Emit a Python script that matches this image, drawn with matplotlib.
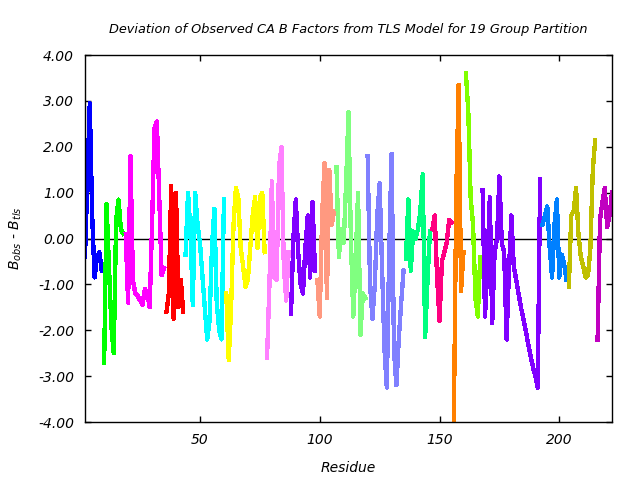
import matplotlib
matplotlib.use("Agg")
import matplotlib.pyplot as plt

# residue ranges of the 19 TLS groups (first, last)
group_starts = [2, 10, 19, 36, 44, 61, 78, 88, 99, 107, 120, 136, 147, 156, 161, 168, 193, 204, 216]
group_ends   = [9, 18, 35, 43, 60, 77, 87, 98, 106, 119, 135, 146, 155, 160, 167, 192, 203, 215, 222]

group_colors = ["#0000ff", "#00ff00", "#ff00ff", "#ff0000", "#00ffff", "#ffff00",
                "#ff80ff", "#8000ff", "#ff9980", "#80ff80", "#8080ff", "#00ff80",
                "#ff0080", "#ff8000", "#80ff00", "#8000ff", "#0080ff", "#c0c000",
                "#c000c0"]

# B_obs - B_tls per residue, one list per group
dev_g01 = [-0.4, 1.3, 2.95, 0.5, -0.85, -0.4, -0.3, -0.7]
dev_g02 = [-2.7, 0.75, -0.6, -1.9, -2.5, 0.4, 0.85, 0.2, 0.1]
dev_g03 = [0.1, -1.4, 1.8, -0.9, -1.2, -1.25, -1.35, -1.45, -1.1, -1.2, -1.5,
           0.3, 2.4, 2.55, 0.9, -0.8, -0.65]
dev_g04 = [-1.6, -1.2, 1.15, -1.75, 1.0, -1.5, -0.9, -1.6]
dev_g05 = [-0.35, 1.0, 0.2, -1.45, 1.0, 0.3, -0.1, -0.8, -1.5, -2.2, -1.8,
           -0.2, 0.65, -1.4, -2.0, -2.2, 0.85]
dev_g06 = [-1.2, -2.65, -1.5, 0.3, 1.1, 0.9, -0.2, -0.6, -1.05, -0.9, -0.2,
           0.5, 0.9, -0.2, 0.9, 1.0, -0.3]
dev_g07 = [-2.6, -1.0, 1.25, -0.85, -0.9, 1.55, 2.0, -0.6, -1.35, -0.3]
dev_g08 = [-1.65, 0.0, 0.85, -0.3, -1.0, -1.2, -0.2, 0.5, -0.85, 0.8, -0.7]
dev_g09 = [-0.9, -1.7, 0.5, 1.65, -1.3, 1.5, 0.3, 0.6]
dev_g10 = [1.55, -0.4, 0.2, -0.1, 1.2, 2.75, 0.0, -1.7, -0.5, 1.0, -2.1, -1.2, -1.3]
dev_g11 = [1.8, -1.0, -1.75, -1.0, 0.5, 1.2, -0.6, -2.4, -3.25, -0.3, 1.85,
           -2.45, -3.2, -2.2, -1.4, -0.7]
dev_g12 = [-0.45, 0.85, -0.7, 0.15, 0.0, 0.2, 0.6, 1.4, -2.15, -0.9, 0.15]
dev_g13 = [0.2, 0.5, -0.85, -1.8, -0.5, -0.3, -0.1, 0.4, 0.35]
dev_g14 = [-3.95, 1.0, 3.35, -1.15, -0.3]
dev_g15 = [3.6, 2.8, 0.9, 0.3, -1.3, -1.7, -0.4]
dev_g16 = [1.05, -1.7, -0.6, 0.9, -1.85, -0.3, 0.0, 1.35, -0.1, -0.3, -2.2,
           -0.7, 0.5, -0.6, -0.9, -1.2, -1.5, -1.75, -2.0, -2.3, -2.55, -2.8,
           -3.0, -3.25, 1.3]
dev_g17 = [0.3, 0.5, 0.7, -0.2, -0.85, 0.3, 0.85, -0.85, -0.35, -0.55, -0.9]
dev_g18 = [-1.05, 0.5, 0.6, 1.1, 0.1, -0.4, -0.6, -0.85, -0.8, -0.2, 1.5, 2.15]
dev_g19 = [-2.2, 0.4, 0.8, 1.1, 0.25, 0.5, 1.0]

deviations = [dev_g01, dev_g02, dev_g03, dev_g04, dev_g05, dev_g06, dev_g07,
              dev_g08, dev_g09, dev_g10, dev_g11, dev_g12, dev_g13, dev_g14,
              dev_g15, dev_g16, dev_g17, dev_g18, dev_g19]

y_ticks = [-4, -3, -2, -1, 0, 1, 2, 3, 4]
x_ticks = [50, 100, 150, 200]

plt.rcParams["font.family"] = "DejaVu Sans"
plt.rcParams["font.style"] = "italic"
plt.rcParams["mathtext.default"] = "it"

fig = plt.figure(figsize=(6.4, 4.8), dpi=100)
ax = fig.add_axes([0.1328, 0.1208, 0.8234, 0.7646])

for start, end, vals, clr in zip(group_starts, group_ends, deviations, group_colors):
    res = list(range(start, end + 1))
    ax.plot(res, vals, color=clr, linewidth=2.4, antialiased=False)

ax.axhline(0.0, color="black", linewidth=1.0, zorder=0)

ax.set_xlim(group_starts[0], group_ends[-1])
ax.set_ylim(-4, 4)
ax.set_xticks(x_ticks)
ax.set_yticks(y_ticks)
ax.set_yticklabels([f"{v:.2f}" for v in y_ticks])
ax.tick_params(direction="in", top=True, right=True, length=4.5, width=1.0,
               labelsize=10, pad=8)
for spine in ax.spines.values():
    spine.set_linewidth(1.0)

ax.set_title("Deviation of Observed CA B Factors from TLS Model for 19 Group Partition",
             fontsize=9.3, pad=16)
ax.set_xlabel("Residue", fontsize=10, labelpad=10)
ax.set_ylabel(r"$B_{obs}$ - $B_{tls}$", fontsize=10, labelpad=10)

fig.savefig("out.png", dpi=100)
